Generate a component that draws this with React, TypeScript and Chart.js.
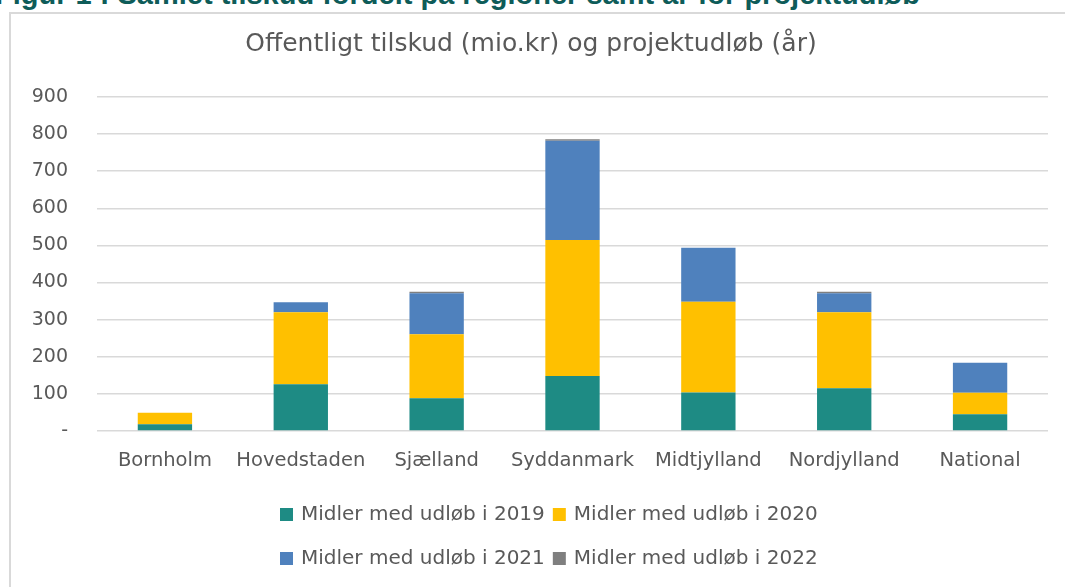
import React, { useEffect, useRef } from 'react';
import { Chart, registerables } from 'chart.js';

Chart.register(...registerables);

const heading = 'Figur 1 : Samlet tilskud fordelt på regioner samt år for projektudløb';
const chartTitle = 'Offentligt tilskud (mio.kr) og projektudløb (år)';

const categories = ['Bornholm', 'Hovedstaden', 'Sjælland', 'Syddanmark', 'Midtjylland', 'Nordjylland', 'National'];

const udloeb2019 = [18, 126, 88, 148, 104, 115, 45];
const udloeb2020 = [31, 194, 173, 367, 244, 205, 58];
const udloeb2021 = [0, 27, 110, 267, 146, 51, 81];
const udloeb2022 = [0, 0, 4, 4, 0, 4, 0];

const seriesLabels = [
  'Midler med udløb i 2019',
  'Midler med udløb i 2020',
  'Midler med udløb i 2021',
  'Midler med udløb i 2022',
];
const seriesColors = ['#1E8B84', '#FFC000', '#4F81BD', '#7F7F7F'];

const yMin = 0;
const yMax = 900;
const yStep = 100;

const textColor = '#595959';
const FONT = '"DejaVu Sans", sans-serif';

const legendPlugin = {
  id: 'excelLegend',
  afterDraw(chart: any) {
    const ctx = chart.ctx;
    ctx.save();
    ctx.font = `20px ${FONT}`;
    ctx.textBaseline = 'middle';
    ctx.textAlign = 'left';
    const ds = chart.data.datasets;
    const boxSize = 13;
    const boxGap = 8;
    const itemGap = 8;
    const colX0 = 280;
    const rowY = [514.5, 558.5];
    const col1W = Math.max(ctx.measureText(ds[0].label).width, ctx.measureText(ds[2].label).width);
    const colX = [colX0, colX0 + boxSize + boxGap + col1W + itemGap];
    ds.forEach((d: any, i: number) => {
      const r = Math.floor(i / 2);
      const c = i % 2;
      ctx.fillStyle = d.backgroundColor;
      ctx.fillRect(colX[c], Math.round(rowY[r] - boxSize / 2), boxSize, boxSize);
      ctx.fillStyle = textColor;
      ctx.fillText(d.label, colX[c] + boxSize + boxGap, rowY[r]);
    });
    ctx.restore();
  },
};

export default function App() {
  const ref = useRef<HTMLCanvasElement>(null);

  useEffect(() => {
    const series = [udloeb2019, udloeb2020, udloeb2021, udloeb2022];
    const chart = new Chart(ref.current as HTMLCanvasElement, {
      type: 'bar',
      data: {
        labels: categories,
        datasets: series.map((values, i) => ({
          label: seriesLabels[i],
          data: values,
          backgroundColor: seriesColors[i],
          borderWidth: 0,
          barPercentage: 0.4,
          categoryPercentage: 1,
        })),
      },
      options: {
        responsive: false,
        animation: false,
        devicePixelRatio: 1,
        layout: { padding: { left: 14, right: 17, top: 0, bottom: 96.6 } },
        plugins: {
          legend: { display: false },
          tooltip: { enabled: false },
          title: {
            display: true,
            text: chartTitle,
            color: textColor,
            font: { family: FONT, size: 25, weight: 'normal', lineHeight: 1.2 },
            padding: { top: 29, bottom: 38 },
          },
        },
        scales: {
          x: {
            stacked: true,
            grid: { display: false, drawTicks: false },
            border: { display: false },
            ticks: {
              color: textColor,
              font: { family: FONT, size: 19.5 },
              padding: 18,
              maxRotation: 0,
            },
          },
          y: {
            stacked: true,
            min: yMin,
            max: yMax,
            grid: { color: '#D9D9D9', lineWidth: 1.5, drawTicks: false },
            border: { display: false },
            ticks: {
              stepSize: yStep,
              color: textColor,
              font: { family: FONT, size: 19 },
              padding: 29,
              callback: (v: any) => (Number(v) === 0 ? '-' : String(v)),
            },
            afterFit: (s: any) => {
              s.width = 83;
            },
          },
        },
      },
      plugins: [legendPlugin],
    } as any);
    return () => chart.destroy();
  }, []);

  return (
    <div
      style={{
        position: 'fixed',
        left: 0,
        top: 0,
        width: 1065,
        height: 587,
        overflow: 'hidden',
        background: '#ffffff',
      }}
    >
      <div
        style={{
          position: 'absolute',
          left: 9,
          top: 12,
          width: 1100,
          height: 700,
          border: '2px solid #D9D9D9',
          boxSizing: 'border-box',
        }}
      />
      <div
        style={{
          position: 'absolute',
          right: 145,
          top: -20,
          whiteSpace: 'nowrap',
          fontFamily: '"Liberation Sans", Arial, sans-serif',
          fontWeight: 'bold',
          fontSize: 29,
          lineHeight: '29px',
          color: '#0E5C59',
        }}
      >
        {heading}
      </div>
      <canvas
        ref={ref}
        width={1065}
        height={587}
        style={{ position: 'absolute', left: 0, top: 0, width: 1065, height: 587 }}
      />
    </div>
  );
}
